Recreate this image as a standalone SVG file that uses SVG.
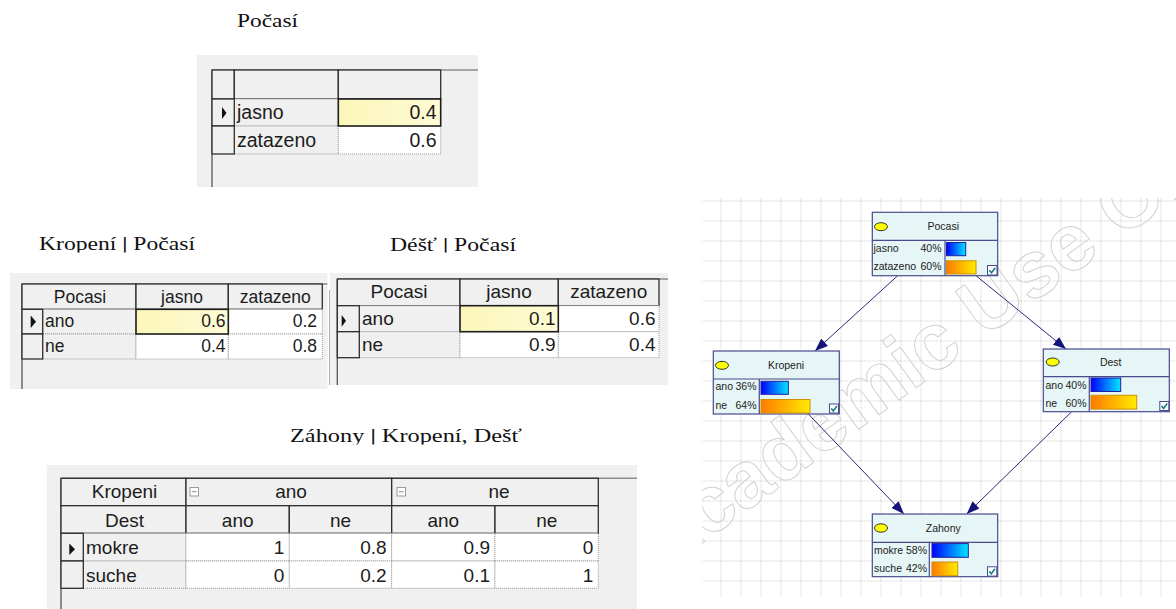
<svg xmlns="http://www.w3.org/2000/svg" width="1176" height="609" viewBox="0 0 1176 609">
<defs>
<style>
.t{font-family:"Liberation Serif","Times New Roman",serif;font-size:19px;fill:#111}
.s{font-family:"Liberation Sans",Arial,sans-serif;fill:#1c1c1c}
.panel{fill:#f0f0f0}
.hd{fill:#f0f0f0;stroke:#2e2e2e;stroke-width:1.3}
.lb{fill:#f0f0f0;stroke:#9a9a9a;stroke-width:1;stroke-dasharray:1 1}
.vl{fill:#fff;stroke:#9a9a9a;stroke-width:1;stroke-dasharray:1 1}
.sel{fill:url(#selg);stroke:#1e1e1e;stroke-width:1.6}
.tl{stroke:#8c8c8c;stroke-width:1.5}
.ll{stroke:#555;stroke-width:1.3}
.arr{fill:#111}
.mi{fill:#fff;stroke:#9a9a9a;stroke-width:1}
.c{text-anchor:middle}
.e{text-anchor:end}
.node{fill:#e6f5f5;stroke:#4a4a8e;stroke-width:1.2}
.sep{stroke:#4a4a8e;stroke-width:1.2}
.nt{font-family:"Liberation Sans",Arial,sans-serif;font-size:10.5px;fill:#1c1c1c}
.bb{fill:url(#blue);stroke:#2020a0;stroke-width:1}
.ob{fill:url(#orange);stroke:#d09000;stroke-width:1}
.cb{fill:#fff;stroke:#4a4a8e;stroke-width:1}
.ck{fill:none;stroke:#138080;stroke-width:1.6}
.el{fill:#ffff00;stroke:#333;stroke-width:1}
.edge{fill:none;stroke:#2a2a7a;stroke-width:1}
.wm{font-family:"Liberation Sans",Arial,sans-serif;font-weight:bold;font-size:80px;fill:none;stroke:#d2d2d2;stroke-width:1}
</style>
<linearGradient id="selg" x1="0" y1="0" x2="1" y2="0"><stop offset="0" stop-color="#fbf6b8"/><stop offset="1" stop-color="#fffbd6"/></linearGradient>
<linearGradient id="blue" x1="0" y1="0" x2="1" y2="0"><stop offset="0" stop-color="#0000ff"/><stop offset="1" stop-color="#00e8ff"/></linearGradient>
<linearGradient id="orange" x1="0" y1="0" x2="1" y2="0"><stop offset="0" stop-color="#ff7a00"/><stop offset="1" stop-color="#ffec00"/></linearGradient>
<pattern id="grid" x="0.5" y="0.5" width="20" height="20" patternUnits="userSpaceOnUse"><path d="M0 0.5H20M0.5 0V20" fill="none" stroke="#dcdcdc" stroke-width="1" stroke-dasharray="2 1"/></pattern>
<marker id="ah" markerWidth="13" markerHeight="10" refX="13" refY="5" orient="auto" markerUnits="userSpaceOnUse"><path d="M0 0L13 5L0 10z" fill="#14147a"/></marker>
<clipPath id="cp1"><rect x="0" y="0" width="600" height="29"/></clipPath>
<clipPath id="cp2"><rect x="0" y="220" width="700" height="32.5"/></clipPath>
<clipPath id="cp3"><rect x="0" y="420" width="700" height="24.5"/></clipPath>
<clipPath id="cpn"><rect x="702" y="198" width="474" height="399"/></clipPath>
</defs>
<rect width="1176" height="609" fill="#fff"/>

<!-- Titles -->
<g id="titles">
<text class="t" x="237" y="27" textLength="61" lengthAdjust="spacingAndGlyphs" clip-path="url(#cp1)">Počasí</text>
<text class="t" x="39" y="250" textLength="156" lengthAdjust="spacingAndGlyphs" clip-path="url(#cp2)">Kropení <tspan font-weight="bold">|</tspan> Počasí</text>
<text class="t" x="390" y="250.5" textLength="126" lengthAdjust="spacingAndGlyphs" clip-path="url(#cp2)">Déšť <tspan font-weight="bold">|</tspan> Počasí</text>
<text class="t" x="290" y="442" textLength="232" lengthAdjust="spacingAndGlyphs" clip-path="url(#cp3)">Záhony <tspan font-weight="bold">|</tspan> Kropení, Dešť</text>
</g>

<!-- Table Pocasi -->
<g id="table-pocasi" class="s" font-size="19.5px">
<rect class="panel" x="197" y="55" width="281" height="132"/>
<line class="tl" x1="212" y1="70" x2="478" y2="70"/>
<line class="ll" x1="212" y1="70" x2="212" y2="187"/>
<rect class="hd" x="212" y="70" width="22.3" height="29"/>
<rect class="hd" x="234.3" y="70" width="104" height="29"/>
<rect class="hd" x="338.3" y="70" width="102.4" height="29"/>
<rect class="lb" x="234.3" y="99" width="104" height="27"/>
<rect class="lb" x="234.3" y="126" width="104" height="28"/>
<rect class="vl" x="338.3" y="126" width="102.4" height="28"/>
<rect class="sel" x="338.3" y="99" width="102.4" height="27"/>
<rect class="hd" x="212" y="99" width="22.3" height="27"/>
<rect class="hd" x="212" y="126" width="22.3" height="28"/>
<polygon class="arr" points="222,107 226.5,113 222,119"/>
<text x="237" y="119">jasno</text>
<text x="237" y="146.5">zatazeno</text>
<text class="e" x="436.5" y="119">0.4</text>
<text class="e" x="436.5" y="146.5">0.6</text>
</g>

<!-- Table Kropeni | Pocasi -->
<g id="table-kropeni" class="s" font-size="17.5px">
<rect class="panel" x="10" y="273" width="317.5" height="116"/>
<line class="tl" x1="22" y1="284" x2="327.5" y2="284"/>
<line class="ll" x1="22" y1="284" x2="22" y2="389"/>
<rect class="hd" x="22" y="284" width="114" height="25.3"/>
<rect class="hd" x="136" y="284" width="92.3" height="25.3"/>
<rect class="hd" x="228.3" y="284" width="94" height="25.3"/>
<rect class="lb" x="42.7" y="309.3" width="93.3" height="24.7"/>
<rect class="lb" x="42.7" y="334" width="93.3" height="25"/>
<rect class="vl" x="228.3" y="309.3" width="94" height="24.7"/>
<rect class="vl" x="136" y="334" width="92.3" height="25"/>
<rect class="vl" x="228.3" y="334" width="94" height="25"/>
<rect class="sel" x="136" y="309.3" width="92.3" height="24.7"/>
<rect class="hd" x="22" y="309.3" width="20.7" height="24.7"/>
<rect class="hd" x="22" y="334" width="20.7" height="25"/>
<polygon class="arr" points="30.7,315.5 36,321.7 30.7,328"/>
<text class="c" x="80" y="302.5">Pocasi</text>
<text class="c" x="182" y="302.5">jasno</text>
<text class="c" x="275.3" y="302.5">zatazeno</text>
<text x="45" y="327">ano</text>
<text x="45" y="352">ne</text>
<text class="e" x="225.5" y="327">0.6</text>
<text class="e" x="317" y="327">0.2</text>
<text class="e" x="225.5" y="352">0.4</text>
<text class="e" x="317" y="352">0.8</text>
</g>

<!-- Table Dest | Pocasi -->
<g id="table-dest" class="s" font-size="19px">
<rect class="panel" x="330" y="273" width="338" height="112"/>
<line x1="329.5" y1="290" x2="329.5" y2="385" stroke="#b0b0b0" stroke-width="1"/>
<line class="tl" x1="337.3" y1="279" x2="668" y2="279"/>
<line class="ll" x1="337.3" y1="279" x2="337.3" y2="385"/>
<rect class="hd" x="337.3" y="279" width="122.7" height="26.7"/>
<rect class="hd" x="460" y="279" width="98.3" height="26.7"/>
<rect class="hd" x="558.3" y="279" width="100.7" height="26.7"/>
<rect class="lb" x="359.3" y="305.7" width="100.7" height="26"/>
<rect class="lb" x="359.3" y="331.7" width="100.7" height="26"/>
<rect class="vl" x="558.3" y="305.7" width="100.7" height="26"/>
<rect class="vl" x="460" y="331.7" width="98.3" height="26"/>
<rect class="vl" x="558.3" y="331.7" width="100.7" height="26"/>
<rect class="sel" x="460" y="305.7" width="98.3" height="26"/>
<rect class="hd" x="337.3" y="305.7" width="22" height="26"/>
<rect class="hd" x="337.3" y="331.7" width="22" height="26"/>
<polygon class="arr" points="341.7,315 346,320.8 341.7,326.7"/>
<text class="c" x="399" y="298">Pocasi</text>
<text class="c" x="509" y="298">jasno</text>
<text class="c" x="608.7" y="298">zatazeno</text>
<text x="362" y="325">ano</text>
<text x="362" y="350.7">ne</text>
<text class="e" x="555.5" y="325">0.1</text>
<text class="e" x="655.5" y="325">0.6</text>
<text class="e" x="555.5" y="350.7">0.9</text>
<text class="e" x="655.5" y="350.7">0.4</text>
</g>

<!-- Table Zahony | Kropeni, Dest -->
<g id="table-zahony" class="s" font-size="19px">
<rect class="panel" x="46.7" y="465" width="590.3" height="144"/>
<line class="tl" x1="61" y1="478.3" x2="637" y2="478.3"/>
<line class="ll" x1="61" y1="478.3" x2="61" y2="609"/>
<rect class="hd" x="61" y="478.3" width="125" height="27.4"/>
<rect class="hd" x="186" y="478.3" width="205.7" height="27.4"/>
<rect class="hd" x="391.7" y="478.3" width="206.6" height="27.4"/>
<rect class="hd" x="61" y="505.7" width="125" height="27.6"/>
<rect class="hd" x="186" y="505.7" width="103.3" height="27.6"/>
<rect class="hd" x="289.3" y="505.7" width="102.4" height="27.6"/>
<rect class="hd" x="391.7" y="505.7" width="103.3" height="27.6"/>
<rect class="hd" x="495" y="505.7" width="103.3" height="27.6"/>
<rect class="lb" x="83.3" y="533.3" width="102.7" height="27.7"/>
<rect class="lb" x="83.3" y="561" width="102.7" height="27.3"/>
<rect class="vl" x="186" y="533.3" width="103.3" height="27.7"/>
<rect class="vl" x="289.3" y="533.3" width="102.4" height="27.7"/>
<rect class="vl" x="391.7" y="533.3" width="103.3" height="27.7"/>
<rect class="vl" x="495" y="533.3" width="103.3" height="27.7"/>
<rect class="vl" x="186" y="561" width="103.3" height="27.3"/>
<rect class="vl" x="289.3" y="561" width="102.4" height="27.3"/>
<rect class="vl" x="391.7" y="561" width="103.3" height="27.3"/>
<rect class="vl" x="495" y="561" width="103.3" height="27.3"/>
<rect class="hd" x="61" y="533.3" width="22.3" height="27.7"/>
<rect class="hd" x="61" y="561" width="22.3" height="27.3"/>
<polygon class="arr" points="69.3,543.5 75,549.3 69.3,555"/>
<rect class="mi" x="190" y="487.5" width="8.5" height="8.5"/>
<line x1="191.8" y1="491.75" x2="196.7" y2="491.75" stroke="#8a8a8a"/>
<rect class="mi" x="397" y="487.5" width="8.5" height="8.5"/>
<line x1="398.8" y1="491.75" x2="403.7" y2="491.75" stroke="#8a8a8a"/>
<text class="c" x="124.5" y="498.3">Kropeni</text>
<text class="c" x="291" y="498.3">ano</text>
<text class="c" x="499" y="498.3">ne</text>
<text class="c" x="124.5" y="526.7">Dest</text>
<text class="c" x="237.7" y="526.7">ano</text>
<text class="c" x="340.5" y="526.7">ne</text>
<text class="c" x="443.3" y="526.7">ano</text>
<text class="c" x="546.7" y="526.7">ne</text>
<text x="86" y="554">mokre</text>
<text x="86" y="581.7">suche</text>
<text class="e" x="284.3" y="554">1</text>
<text class="e" x="386.7" y="554">0.8</text>
<text class="e" x="490" y="554">0.9</text>
<text class="e" x="593.3" y="554">0</text>
<text class="e" x="284.3" y="581.7">0</text>
<text class="e" x="386.7" y="581.7">0.2</text>
<text class="e" x="490" y="581.7">0.1</text>
<text class="e" x="593.3" y="581.7">1</text>
</g>

<!-- Network canvas -->
<g id="canvas">
<rect x="702" y="198" width="474" height="399" fill="#fff"/>
<rect x="702" y="198" width="474" height="399" fill="url(#grid)"/>
<g clip-path="url(#cpn)"><text class="wm" x="660" y="574" transform="rotate(-36 660 574)">Academic Use Only</text></g>
</g>

<g id="connectors">
<path class="edge" marker-end="url(#ah)" d="M897.7 275.7L815 351"/>
<path class="edge" marker-end="url(#ah)" d="M976 275.7L1066 349"/>
<path class="edge" marker-end="url(#ah)" d="M808.3 414L904 514"/>
<path class="edge" marker-end="url(#ah)" d="M1071.7 411.7L966.7 514"/>
</g>

<g id="node-pocasi">
<rect class="node" x="872.3" y="212.3" width="125.4" height="63.4"/>
<line class="sep" x1="872.3" y1="240.3" x2="997.7" y2="240.3"/>
<line class="sep" x1="945" y1="240.3" x2="945" y2="275.7"/>
<ellipse class="el" cx="881" cy="226.7" rx="6.5" ry="4"/>
<text class="nt c" x="943.3" y="230">Pocasi</text>
<text class="nt" x="873.5" y="252.3">jasno</text>
<text class="nt e" x="941.5" y="252.3">40%</text>
<text class="nt" x="873.5" y="270.3">zatazeno</text>
<text class="nt e" x="941.5" y="270.3">60%</text>
<rect class="bb" x="946.5" y="242.5" width="19.2" height="13.2"/>
<rect class="ob" x="946.5" y="260.8" width="29.5" height="13.2"/>
<rect class="cb" x="987.5" y="265.5" width="9.5" height="9.5"/>
<path class="ck" d="M989.3 270.2l2.2 2.5l3.8-5"/>
</g>

<g id="node-kropeni">
<rect class="node" x="713.3" y="351" width="126" height="63"/>
<line class="sep" x1="713.3" y1="379" x2="839.3" y2="379"/>
<line class="sep" x1="759.3" y1="379" x2="759.3" y2="414"/>
<ellipse class="el" cx="722" cy="365.3" rx="6.5" ry="4"/>
<text class="nt c" x="786" y="369">Kropeni</text>
<text class="nt" x="715.5" y="390">ano</text>
<text class="nt e" x="756.5" y="390">36%</text>
<text class="nt" x="715.5" y="409.3">ne</text>
<text class="nt e" x="756.5" y="409.3">64%</text>
<rect class="bb" x="761" y="381.3" width="27.3" height="13"/>
<rect class="ob" x="761" y="399.5" width="49" height="13.5"/>
<rect class="cb" x="829.5" y="404" width="9" height="9"/>
<path class="ck" d="M831.2 408.5l2.1 2.4l3.6-4.8"/>
</g>

<g id="node-dest">
<rect class="node" x="1043.3" y="349" width="126" height="62.7"/>
<line class="sep" x1="1043.3" y1="376.7" x2="1169.3" y2="376.7"/>
<line class="sep" x1="1089.3" y1="376.7" x2="1089.3" y2="411.7"/>
<ellipse class="el" cx="1052.7" cy="362" rx="6.5" ry="4"/>
<text class="nt c" x="1110.7" y="365.7">Dest</text>
<text class="nt" x="1045.5" y="388.7">ano</text>
<text class="nt e" x="1086.5" y="388.7">40%</text>
<text class="nt" x="1045.5" y="406.7">ne</text>
<text class="nt e" x="1086.5" y="406.7">60%</text>
<rect class="bb" x="1091" y="378" width="29.7" height="13.5"/>
<rect class="ob" x="1091" y="395.3" width="45.7" height="13.8"/>
<rect class="cb" x="1159.8" y="401.5" width="9" height="9"/>
<path class="ck" d="M1161.5 406l2.1 2.4l3.6-4.8"/>
</g>

<g id="node-zahony">
<rect class="node" x="872.3" y="514" width="125.4" height="62.7"/>
<line class="sep" x1="872.3" y1="542.3" x2="997.7" y2="542.3"/>
<line class="sep" x1="929.3" y1="542.3" x2="929.3" y2="576.7"/>
<ellipse class="el" cx="881" cy="528" rx="6.5" ry="4.2"/>
<text class="nt c" x="943.3" y="531.7">Zahony</text>
<text class="nt" x="874" y="554">mokre</text>
<text class="nt e" x="927" y="554">58%</text>
<text class="nt" x="874" y="572.3">suche</text>
<text class="nt e" x="927" y="572.3">42%</text>
<rect class="bb" x="932" y="543.6" width="36.3" height="13.7"/>
<rect class="ob" x="932" y="562" width="25.7" height="13.7"/>
<rect class="cb" x="987.5" y="566.8" width="9.3" height="9.3"/>
<path class="ck" d="M989.2 571.3l2.1 2.4l3.7-4.9"/>
</g>
</svg>
